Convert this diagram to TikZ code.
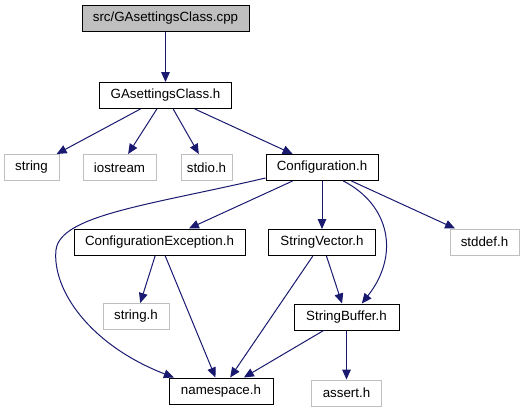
\documentclass[tikz,border=0pt]{standalone}
\usepackage{fontspec}
\setmainfont{Liberation Sans}
\usetikzlibrary{positioning,arrows.meta}
\definecolor{dxblue}{HTML}{191970}
\definecolor{dxgray}{HTML}{BFBFBF}

\begin{document}
\begin{tikzpicture}[font=\fontsize{10}{12}\selectfont,x=0.75pt,y=-0.75pt,>={Triangle[length=7.5pt,width=6.5pt]}]
  \tikzstyle{hdr}=[draw,line width=0.75pt,minimum height=19.5pt,inner sep=0pt]
  \tikzstyle{sys}=[hdr,draw=dxgray]
  \tikzstyle{dep}=[->,dxblue,line width=0.75pt]
  \useasboundingbox (0,0) rectangle (525,411);
  % source file and its header
  \node[hdr,fill=dxgray,minimum width=125.25pt] (cpp) at (165.5,18.5) {src/GAsettingsClass.cpp};
  \node[hdr,below=37.5pt of cpp,minimum width=99pt] (gah) {GAsettingsClass.h};
  % first level includes
  \node[sys,minimum width=41.25pt] (string) at (31.5,167.5) {string};
  \node[sys,minimum width=54.75pt] (iostream) at (119.5,167.5) {iostream};
  \node[sys,minimum width=38.25pt] (stdio) at (206.5,167.5) {stdio.h};
  \node[hdr,minimum width=84pt] (conf) at (322,167.5) {Configuration.h};
  % second level
  \node[hdr,minimum width=128.25pt] (confexc) at (159.5,242) {ConfigurationException.h};
  \node[hdr,below=36pt of conf,minimum width=80.25pt] (strvec) {StringVector.h};
  \node[sys,minimum width=51.75pt] (stddef) at (484.5,242) {stddef.h};
  % third level
  \node[sys,minimum width=49.5pt] (stringh) at (136,316.5) {string.h};
  \node[hdr,minimum width=78.75pt] (strbuf) at (346.5,317) {StringBuffer.h};
  % bottom
  \node[hdr,minimum width=78pt] (nspace) at (221,391) {namespace.h};
  \node[sys,below=36.75pt of strbuf,minimum width=52.5pt] (assert) {assert.h};
  % edges
  \draw[dep] (cpp) -- (gah);
  \draw[dep] (gah) -- (string);
  \draw[dep] (gah) -- (iostream);
  \draw[dep] (gah) -- (stdio);
  \draw[dep] (gah) -- (conf);
  \draw[dep] (conf) -- (confexc);
  \draw[dep] (conf) -- (strvec);
  \draw[dep] (conf) -- (stddef);
  \draw[dep] ([yshift=2.25pt]conf.south west) .. controls (150,205) and (60,215) .. (56,250)
    .. controls (52,290) and (90,345) .. ([xshift=4pt]nspace.north west);
  \draw[dep] ([xshift=16pt]conf.south) .. controls (390,205) and (400,255) .. ([xshift=11.5pt]strbuf.north);
  \draw[dep] (confexc) -- (stringh);
  \draw[dep] (confexc) -- (nspace);
  \draw[dep] (strvec) -- (strbuf);
  \draw[dep] (strvec) -- (nspace);
  \draw[dep] (strbuf) -- (nspace);
  \draw[dep] (strbuf) -- (assert);
\end{tikzpicture}
\end{document}
